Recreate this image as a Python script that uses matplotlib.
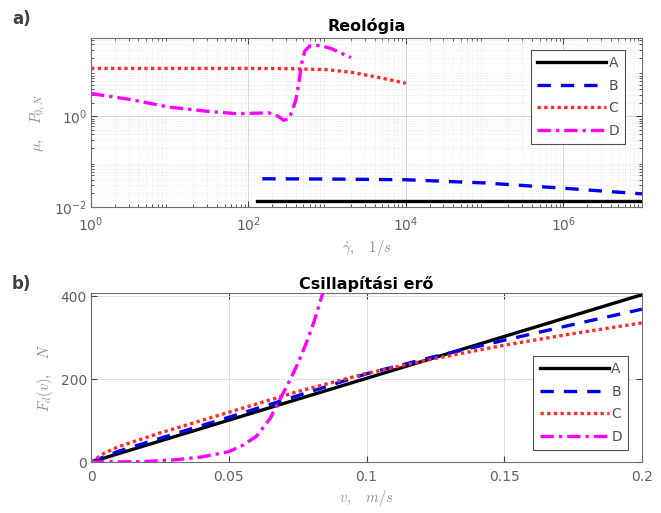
import matplotlib
matplotlib.use("Agg")
import matplotlib.pyplot as plt
import numpy as np

plt.rcParams['font.family'] = ['DejaVu Sans']
plt.rcParams['mathtext.fontset'] = 'cm'

# ---- Panel a) data (rheology, log-log) ----
A_gd = [130, 1e7]
A_mu = [0.0135, 0.0135]

B_gd = [150, 1e3, 1e4, 1e5, 1e6, 1e7]
B_mu = [0.042, 0.0415, 0.040, 0.034, 0.026, 0.0195]

C_gd = [1, 10, 100, 300, 1000, 2000, 5000, 1e4]
C_mu = [11.5, 11.5, 11.5, 11.4, 10.8, 9.5, 7.0, 5.4]

D_gd = [1, 3, 10, 30, 70, 180, 240, 280, 330, 400, 440, 470, 520, 600, 800, 1100, 1500, 2000]
D_mu = [3.2, 2.4, 1.6, 1.3, 1.15, 1.2, 1.0, 0.82, 0.9, 2.3, 6, 14, 28, 36, 37, 32, 25, 20]

# ---- Panel b) data (damping force) ----
A_v = [0.0, 0.2]
A_F = [0, 404]

B_v = [0.0, 0.01, 0.025, 0.05, 0.075, 0.1, 0.125, 0.15, 0.175, 0.2]
B_F = [0, 26, 57, 108, 160, 213, 255, 294, 332, 369]

C_v = [0.0, 0.005, 0.01, 0.025, 0.05, 0.075, 0.1, 0.125, 0.15, 0.175, 0.2]
C_F = [0, 22, 37, 70, 120, 170, 214, 250, 282, 310, 336]

D_v = [0.0, 0.01, 0.02, 0.03, 0.04, 0.05, 0.055, 0.06, 0.065, 0.0686, 0.072, 0.075, 0.078, 0.081, 0.084, 0.087]
D_F = [0, 0.3, 1.5, 5, 12, 25, 40, 62, 105, 152, 195, 237, 285, 340, 405, 470]

labels = ['A', 'B', 'C', 'D']
colors = ['#000000', '#0000ee', '#ff2a2a', '#ff00ff']
styles = ['-', (0, (4, 3)), (0, (1, 1)), (0, (4, 1.5, 1, 1.5))]

fig = plt.figure(figsize=(6.61, 5.13), dpi=100)
L, W = 91/661, 551/661
ax1 = fig.add_axes([L, 1-207/513, W, 169/513])
ax2 = fig.add_axes([L, 1-462/513, W, 169/513])

tick_col = '#404040'
lab_col = '#909090'

for x, y, c, s, lab in zip([A_gd, B_gd, C_gd, D_gd], [A_mu, B_mu, C_mu, D_mu], colors, styles, labels):
    ax1.plot(x, y, color=c, linestyle=s, lw=2.4, label=lab)
ax1.set_xscale('log')
ax1.set_yscale('log')
ax1.set_xlim(1, 1e7)
ax1.set_ylim(1e-2, 54)
ax1.set_xticks([1, 1e2, 1e4, 1e6])
ax1.set_yticks([1e-2, 1e0])
ax1.grid(True, which='major', color='#d0d0d0', lw=0.6)
ax1.grid(True, which='minor', color='#e0e0e0', lw=0.5, linestyle=':')
ax1.set_title('Reológia', fontsize=11.5, fontweight='bold', pad=5)
ax1.set_xlabel(r'$\dot{\gamma},\quad 1/s$', color=lab_col, fontsize=10.5, labelpad=3)
ax1.set_ylabel(r'$\mu,\quad P_{0,N}$', color=lab_col, fontsize=10.5, labelpad=4)
leg_kw = dict(fontsize=10, handlelength=5.0, handletextpad=0.15, labelspacing=0.62,
              fancybox=False, framealpha=1, borderpad=0.45, borderaxespad=0)
leg1 = ax1.legend(loc='upper right', bbox_to_anchor=(0.97, 0.93), **leg_kw)

for x, y, c, s, lab in zip([A_v, B_v, C_v, D_v], [A_F, B_F, C_F, D_F], colors, styles, labels):
    ax2.plot(x, y, color=c, linestyle=s, lw=2.4, label=lab)
ax2.set_xlim(0, 0.2)
ax2.set_ylim(0, 408)
ax2.set_xticks([0, 0.05, 0.1, 0.15, 0.2])
ax2.set_xticklabels(['0', '0.05', '0.1', '0.15', '0.2'])
ax2.set_yticks([0, 200, 400])
ax2.grid(True, color='#e0e0e0', lw=0.7)
ax2.set_title('Csillapítási erő', fontsize=11.5, fontweight='bold', pad=3)
ax2.set_xlabel(r'$v,\quad m/s$', color=lab_col, fontsize=10.5, labelpad=3)
ax2.set_ylabel(r'$F_d(v),\quad N$', color=lab_col, fontsize=10.5, labelpad=4)
leg2 = ax2.legend(loc='lower right', bbox_to_anchor=(0.975, 0.07), **leg_kw)

for ax, leg in [(ax1, leg1), (ax2, leg2)]:
    ax.tick_params(which='both', direction='in', top=True, right=True, colors=tick_col,
                   labelsize=10, labelcolor='#606060')
    ax.tick_params(axis='x', which='major', pad=6)
    ax.tick_params(axis='y', which='major', pad=3)
    ax.tick_params(which='major', length=4)
    ax.tick_params(which='minor', length=2)
    for sp in ax.spines.values():
        sp.set_color('#707070')
        sp.set_linewidth(0.8)
    leg.get_frame().set_edgecolor('#505050')
    leg.get_frame().set_linewidth(0.8)
    for t in leg.get_texts():
        t.set_color('#505050')

fig.text(12/661, 1-19/513, 'a)', fontsize=12, fontweight='bold', color='#404040', va='center')
fig.text(12/661, 1-284/513, 'b)', fontsize=12, fontweight='bold', color='#404040', va='center')

fig.savefig('out.png', dpi=100)
